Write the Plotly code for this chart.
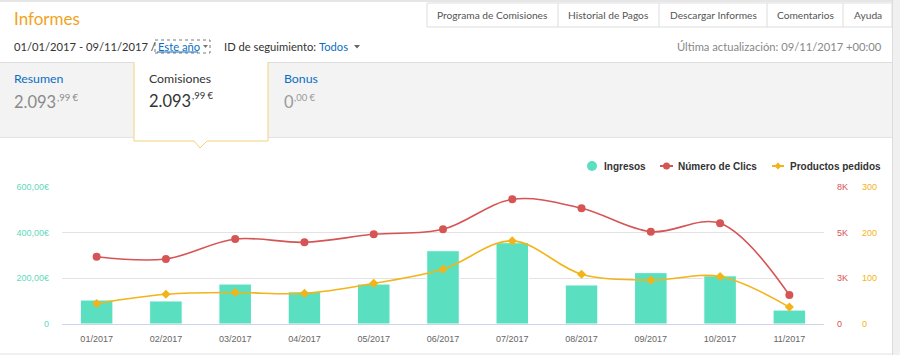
import plotly.graph_objects as go

# ---------------- data ----------------
months = ["01/2017", "02/2017", "03/2017", "04/2017", "05/2017", "06/2017",
          "07/2017", "08/2017", "09/2017", "10/2017", "11/2017"]
ingresos = [105, 101, 175, 141, 175, 321, 356, 171, 225, 211, 61]
clics = [3930, 3800, 4960, 4770, 5240, 5530, 7280, 6760, 5390, 5880, 1690]
productos = [45, 65, 69, 67, 89, 120, 182, 109, 96, 104, 37]

left_ticks = [0, 200, 400, 600]
left_ticktext = ["0", "200,00€", "400,00€", "600,00€"]
clics_ticks = [0, 8000 / 3, 16000 / 3, 8000]
clics_ticktext = ["0", "3K", "5K", "8K"]
prod_ticks = [0, 100, 200, 300]

nav_items = ["Programa de Comisiones", "Historial de Pagos", "Descargar Informes",
             "Comentarios", "Ayuda"]

# ---------------- styles ----------------
W, H = 900, 355
GREEN = "#5ae0c0"
RED = "#d65454"
YELLOW = "#f2b418"
UI_FONT = "Lato"
CH_FONT = "Liberation Sans"
BLUE = "#0a6fc2"


def X(px):
    return px / W


def Y(py):
    return 1 - py / H


fig = go.Figure()
fig.add_trace(go.Bar(x=months, y=ingresos, name="Ingresos", marker=dict(color=GREEN, line=dict(color="white", width=1)),
                     width=0.47, yaxis="y", showlegend=False))
fig.add_trace(go.Scatter(x=months, y=clics, name="Número de Clics", mode="lines+markers", yaxis="y2",
                         line=dict(color=RED, width=1.6, shape="spline", smoothing=1.0),
                         marker=dict(symbol="circle", size=8, color=RED), showlegend=False))
fig.add_trace(go.Scatter(x=months, y=productos, name="Productos pedidos", mode="lines+markers", yaxis="y3",
                         line=dict(color=YELLOW, width=1.6, shape="spline", smoothing=1.0),
                         marker=dict(symbol="diamond", size=7, color=YELLOW), showlegend=False))

shapes = []
ann = []


def rect(x0, y0, x1, y1, fill, line=None, lw=1, dash=None, layer="below"):
    shapes.append(dict(type="rect", xref="paper", yref="paper", x0=X(x0), x1=X(x1), y0=Y(y1), y1=Y(y0),
                       fillcolor=fill, line=dict(color=line or "rgba(0,0,0,0)", width=lw if line else 0, dash=dash),
                       layer=layer))


def hline(x0, x1, y, color, lw=1, dash=None):
    shapes.append(dict(type="line", xref="paper", yref="paper", x0=X(x0), x1=X(x1), y0=Y(y), y1=Y(y),
                       line=dict(color=color, width=lw, dash=dash), layer="below"))


def vline(x, y0, y1, color, lw=1):
    shapes.append(dict(type="line", xref="paper", yref="paper", x0=X(x), x1=X(x), y0=Y(y0), y1=Y(y1),
                       line=dict(color=color, width=lw), layer="below"))


def path(pts, fill=None, line=None, lw=1, close=False):
    d = "M " + " L ".join(f"{X(a):.5f},{Y(b):.5f}" for a, b in pts) + (" Z" if close else "")
    shapes.append(dict(type="path", xref="paper", yref="paper", path=d,
                       fillcolor=fill or "rgba(0,0,0,0)",
                       line=dict(color=line or "rgba(0,0,0,0)", width=lw if line else 0), layer="above"))


def text(x, y, s, size, color, anchor="left", family=UI_FONT):
    ann.append(dict(x=X(x), y=Y(y), xref="paper", yref="paper", text=s, showarrow=False,
                    xanchor=anchor, yanchor="middle", font=dict(size=size, color=color, family=family)))


# page chrome
rect(0, 0, 900, 2, "#e6e6e6")
rect(893, 0, 900, 355, "#f0f0f0")
vline(892.5, 0, 355, "#dcdcdc")
hline(0, 892, 354, "#e2e2e2")

# nav buttons
rect(427, 3, 892, 27, "white", "#dddddd")
for xd in [558, 659, 767, 843]:
    vline(xd, 3, 27, "#dddddd")
nav_bounds = [427, 558, 659, 767, 843, 892]
for i, s in enumerate(nav_items):
    text((nav_bounds[i] + nav_bounds[i + 1]) / 2, 15, s, 10.2, "#555", anchor="center")

# title and filters
text(12, 18, "Informes", 17, "#f0a41c")
text(12, 46, "01/01/2017 - 09/11/2017 /", 11.2, "#333")
text(156, 46, "Este año", 11.2, BLUE)
hline(157, 198, 52, BLUE, 1)
rect(155, 40, 210, 53, "rgba(0,0,0,0)", "#555", 0.8, "dot", layer="above")
path([(203, 45), (208, 45), (205.5, 48)], fill="#777", close=True)
text(222, 46, "ID de seguimiento:", 11.2, "#333")
text(317, 46, "Todos", 11.2, BLUE)
path([(354, 45), (360, 45), (357, 48.5)], fill="#666", close=True)
text(884, 46, "Última actualización: 09/11/2017 +00:00", 11.2, "#888", anchor="right")

# summary band
hline(0, 892, 62.5, "#dddddd")
rect(0, 63, 892, 137, "#f3f3f3")
hline(0, 892, 137.5, "#e2e2e2")
path([(134, 62), (134, 141), (194, 141), (200, 148), (207, 141), (268, 141), (268, 62)], fill="white", close=True)
path([(134, 62), (134, 141), (194, 141), (200, 148), (207, 141), (268, 141), (268, 62)], line="#f3d27e", lw=1)

text(12, 78, "Resumen", 12.3, BLUE)
text(12, 102, "2.093", 16.5, "#8a8a8a")
text(55, 97, ",99 €", 9.5, "#8a8a8a")
text(147, 78, "Comisiones", 12.3, "#333")
text(147, 101, "2.093", 16.5, "#333")
text(190, 96, ",99 €", 9.5, "#333")
text(282, 78, "Bonus", 12.3, BLUE)
text(282, 102, "0", 16.5, "#9a9a9a")
text(292, 97, ",00 €", 9.5, "#9a9a9a")

# legend (drawn manually, Highcharts style)
shapes.append(dict(type="circle", xref="paper", yref="paper", x0=X(587), x1=X(597), y0=Y(171), y1=Y(161),
                   fillcolor=GREEN, line=dict(width=0)))
text(602, 166, "<b>Ingresos</b>", 10, "#333", family=CH_FONT)
hline(660, 673, 166, RED, 2)
shapes.append(dict(type="circle", xref="paper", yref="paper", x0=X(663), x1=X(670), y0=Y(169.5), y1=Y(162.5),
                   fillcolor=RED, line=dict(width=0)))
text(676, 166, "<b>Número de Clics</b>", 10, "#333", family=CH_FONT)
hline(772, 784, 166, YELLOW, 2)
path([(778, 162.5), (781.5, 166), (778, 169.5), (774.5, 166)], fill=YELLOW, close=True)
text(788, 166, "<b>Productos pedidos</b>", 10, "#333", family=CH_FONT)

xdom = [X(62), X(824)]
ydom = [Y(324), Y(187)]

fig.update_layout(
    width=W, height=H, margin=dict(l=0, r=0, t=0, b=0, autoexpand=False),
    autosize=False,
    paper_bgcolor="white", plot_bgcolor="white",
    font=dict(family=CH_FONT, size=9, color="#666"),
    shapes=shapes, annotations=ann, bargap=0.5,
    xaxis=dict(domain=xdom, type="category", range=[-0.5, 10.5], showline=True, linecolor="#ccd6eb",
               linewidth=1, ticks="", showgrid=False, tickfont=dict(size=9, color="#666"),
               ticklabelstandoff=6, fixedrange=True),
    yaxis=dict(domain=ydom, range=[0, 600], tickvals=left_ticks, ticktext=left_ticktext,
               showgrid=True, gridcolor="#e3e3e3", gridwidth=1.3, zeroline=False,
               tickfont=dict(size=9, color="#62d9bd"), ticklabelstandoff=12),
    yaxis2=dict(overlaying="y", side="right", anchor="x", range=[0, 8000], tickvals=clics_ticks,
                ticktext=clics_ticktext, showgrid=False, zeroline=False,
                tickfont=dict(size=9, color=RED), ticklabelstandoff=12),
    yaxis3=dict(overlaying="y", side="right", anchor="x", range=[0, 300], tickvals=prod_ticks,
                showgrid=False, zeroline=False,
                tickfont=dict(size=9, color=YELLOW), ticklabelstandoff=37),
)

fig.write_html("out.html", config={"responsive": False, "displayModeBar": False})
